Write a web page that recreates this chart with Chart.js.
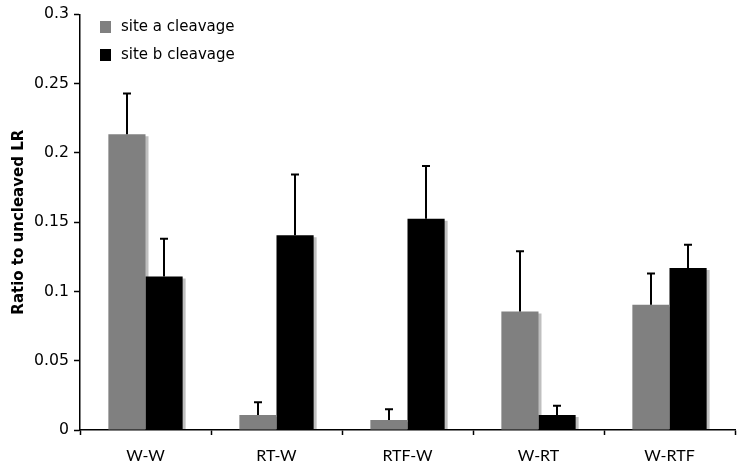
<!DOCTYPE html>
<html><head><meta charset="utf-8">
<script src="https://cdn.jsdelivr.net/npm/chart.js@4/dist/chart.umd.min.js"></script>
<style>html,body{margin:0;padding:0;background:#fff}#wrap{width:743px;height:470px}</style>
</head><body><div id="wrap"><canvas id="c"></canvas></div>
<script>
const categories = ["W-W", "RT-W", "RTF-W", "W-RT", "W-RTF"];
const siteA = [0.2135, 0.0108, 0.0072, 0.0856, 0.0905];
const siteAErr = [0.0295, 0.0092, 0.0078, 0.0434, 0.0225];
const siteB = [0.1108, 0.1405, 0.1525, 0.0108, 0.1170];
const siteBErr = [0.0272, 0.0440, 0.0381, 0.0067, 0.0168];
const seriesLabels = ["site a cleavage", "site b cleavage"];
const yTicks = [0, 0.05, 0.1, 0.15, 0.2, 0.25, 0.3];

const errors = [siteAErr, siteBErr];

const shadowPlugin = {
  id: 'shadow',
  beforeDatasetDraw(chart) {
    const ctx = chart.ctx; ctx.save();
    ctx.shadowColor = 'rgba(0,0,0,0.25)';
    ctx.shadowOffsetX = 3; ctx.shadowOffsetY = 2; ctx.shadowBlur = 0;
  },
  afterDatasetDraw(chart) { chart.ctx.restore(); }
};

const errPlugin = {
  id: 'errbars',
  afterDatasetsDraw(chart) {
    const ctx = chart.ctx, y = chart.scales.y;
    ctx.save();
    ctx.strokeStyle = '#000'; ctx.lineWidth = 2;
    chart.data.datasets.forEach((ds, di) => {
      const meta = chart.getDatasetMeta(di);
      meta.data.forEach((bar, i) => {
        const top = y.getPixelForValue(ds.data[i] + errors[di][i]);
        const x = Math.round(bar.x);
        ctx.beginPath();
        ctx.moveTo(x, bar.y); ctx.lineTo(x, top);
        ctx.moveTo(x - 4, top); ctx.lineTo(x + 4, top);
        ctx.stroke();
      });
    });
    ctx.restore();
  }
};

const legendPlugin = {
  id: 'inlegend',
  afterDraw(chart) {
    const ctx = chart.ctx;
    ctx.save();
    ctx.font = '15px "DejaVu Sans"';
    ctx.textBaseline = 'middle';
    chart.data.datasets.forEach((ds, i) => {
      const yy = 27 + i * 28;
      ctx.fillStyle = ds.backgroundColor;
      ctx.fillRect(100, yy - 6, 11, 12);
      ctx.fillStyle = '#000';
      ctx.fillText(ds.label, 121, yy);
    });
    ctx.restore();
  }
};

new Chart(document.getElementById('c'), {
  type: 'bar',
  data: {
    labels: categories,
    datasets: [
      { label: seriesLabels[0], data: siteA, backgroundColor: '#808080', categoryPercentage: 0.567, barPercentage: 1 },
      { label: seriesLabels[1], data: siteB, backgroundColor: '#000000', categoryPercentage: 0.567, barPercentage: 1 }
    ]
  },
  options: {
    responsive: true, maintainAspectRatio: false, animation: false,
    layout: { padding: { top: 13, right: 8, left: 10, bottom: 0 } },
    plugins: { legend: { display: false }, tooltip: { enabled: false } },
    scales: {
      x: {
        grid: { display: true, offset: true, drawOnChartArea: false, color: '#000', tickLength: 5, tickWidth: 1.5 },
        border: { display: true, color: '#000', width: 1.5 },
        ticks: { color: '#000', font: { family: 'Lato', size: 16 }, padding: 11 },
        afterFit(s) { s.height = 40; }
      },
      y: {
        min: 0, max: 0.3,
        afterBuildTicks(s) { s.ticks = yTicks.map(v => ({ value: v })); },
        grid: { display: true, drawOnChartArea: false, color: '#000', tickLength: 6, tickWidth: 1.5 },
        border: { display: true, color: '#000', width: 1.5 },
        ticks: { color: '#000', font: { family: '"DejaVu Sans"', size: 15.7 }, padding: 5,
          callback: v => String(Math.round(v * 100) / 100) },
        title: { display: true, text: 'Ratio to uncleaved LR', color: '#000',
          font: { family: '"DejaVu Sans"', size: 15, weight: 'bold' }, padding: { top: 0, bottom: 0 } },
        afterFit(s) { s.width = 70; }
      }
    }
  },
  plugins: [shadowPlugin, errPlugin, legendPlugin]
});
</script></body></html>
